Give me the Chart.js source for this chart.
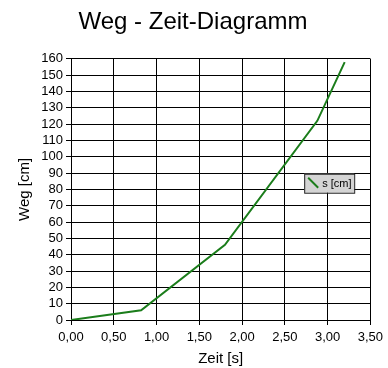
<!DOCTYPE html>
<html>
<head>
<meta charset="utf-8">
<script src="https://cdn.jsdelivr.net/npm/chart.js@4/dist/chart.umd.min.js"></script>
<style>
  html, body { margin: 0; padding: 0; background: #fff; }
  #wrap { width: 388px; height: 368px; }
</style>
</head>
<body>
<div id="wrap"><canvas id="wegZeit" width="388" height="368"></canvas></div>
<script>
(() => {
  'use strict';

  const zeit = [0, 0.82, 1.8, 2.88, 3.2];   // s
  const weg = [0, 6, 46, 122, 158];         // cm
  const seriesLabel = 's [cm]';
  const title = 'Weg - Zeit-Diagramm';
  const xTitle = 'Zeit [s]';
  const yTitle = 'Weg [cm]';

  const FONT = 'Arial, "Liberation Sans", sans-serif';
  const GREEN = '#1b7d1b';

  // kleine Legende im Plotbereich, wie im Original
  const boxLegend = {
    id: 'boxLegend',
    afterDraw(chart) {
      const { ctx, chartArea: a } = chart;
      const x = a.left + (a.right - a.left) * 0.779;
      const y = a.top + (a.bottom - a.top) * 0.44;
      const w = 50, h = 19;
      ctx.save();
      ctx.fillStyle = '#d4d4d4';
      ctx.fillRect(x, y, w, h);
      ctx.strokeStyle = '#222';
      ctx.lineWidth = 1;
      ctx.strokeRect(x + 0.5, y + 0.5, w, h);
      ctx.strokeStyle = GREEN;
      ctx.lineWidth = 2;
      ctx.beginPath();
      ctx.moveTo(x + 4, y + 4);
      ctx.lineTo(x + 14, y + 14);
      ctx.stroke();
      ctx.fillStyle = '#000';
      ctx.font = '11px ' + FONT;
      ctx.textBaseline = 'middle';
      ctx.fillText(seriesLabel, x + 18, y + h / 2 + 1);
      ctx.restore();
    }
  };

  new Chart(document.getElementById('wegZeit'), {
    type: 'line',
    data: {
      datasets: [{
        label: seriesLabel,
        data: zeit.map((t, i) => ({ x: t, y: weg[i] })),
        borderColor: GREEN,
        borderWidth: 2,
        pointRadius: 0,
        tension: 0,
        fill: false
      }]
    },
    options: {
      responsive: false,
      animation: false,
      layout: { padding: { left: 14, right: 16, top: 0, bottom: 0 } },
      plugins: {
        legend: { display: false },
        tooltip: { enabled: false },
        title: {
          display: true,
          text: title,
          color: '#000',
          font: { family: FONT, size: 24, weight: 'normal' },
          padding: { top: 8, bottom: 22 }
        }
      },
      scales: {
        x: {
          type: 'linear',
          min: 0,
          max: 3.5,
          ticks: {
            stepSize: 0.5,
            autoSkip: false,
            color: '#000',
            font: { family: FONT, size: 13 },
            padding: 5,
            maxRotation: 0,
            callback: v => v.toFixed(2).replace('.', ',')
          },
          grid: { color: '#000', lineWidth: 1, tickLength: 5, tickColor: '#000' },
          border: { color: '#000' },
          title: {
            display: true,
            text: xTitle,
            color: '#000',
            font: { family: FONT, size: 15 },
            padding: { top: 1, bottom: 0 }
          },
          afterFit: s => { s.height = 48; }
        },
        y: {
          min: 0,
          max: 160,
          ticks: {
            stepSize: 10,
            autoSkip: false,
            color: '#000',
            font: { family: FONT, size: 13 },
            padding: 3
          },
          grid: { color: '#000', lineWidth: 1, tickLength: 5, tickColor: '#000' },
          border: { color: '#000' },
          title: {
            display: true,
            text: yTitle,
            color: '#000',
            font: { family: FONT, size: 15 },
            padding: { top: 2, bottom: 0 }
          },
          afterFit: s => { s.width = 57; }
        }
      }
    },
    plugins: [boxLegend]
  });
})();
</script>
</body>
</html>
